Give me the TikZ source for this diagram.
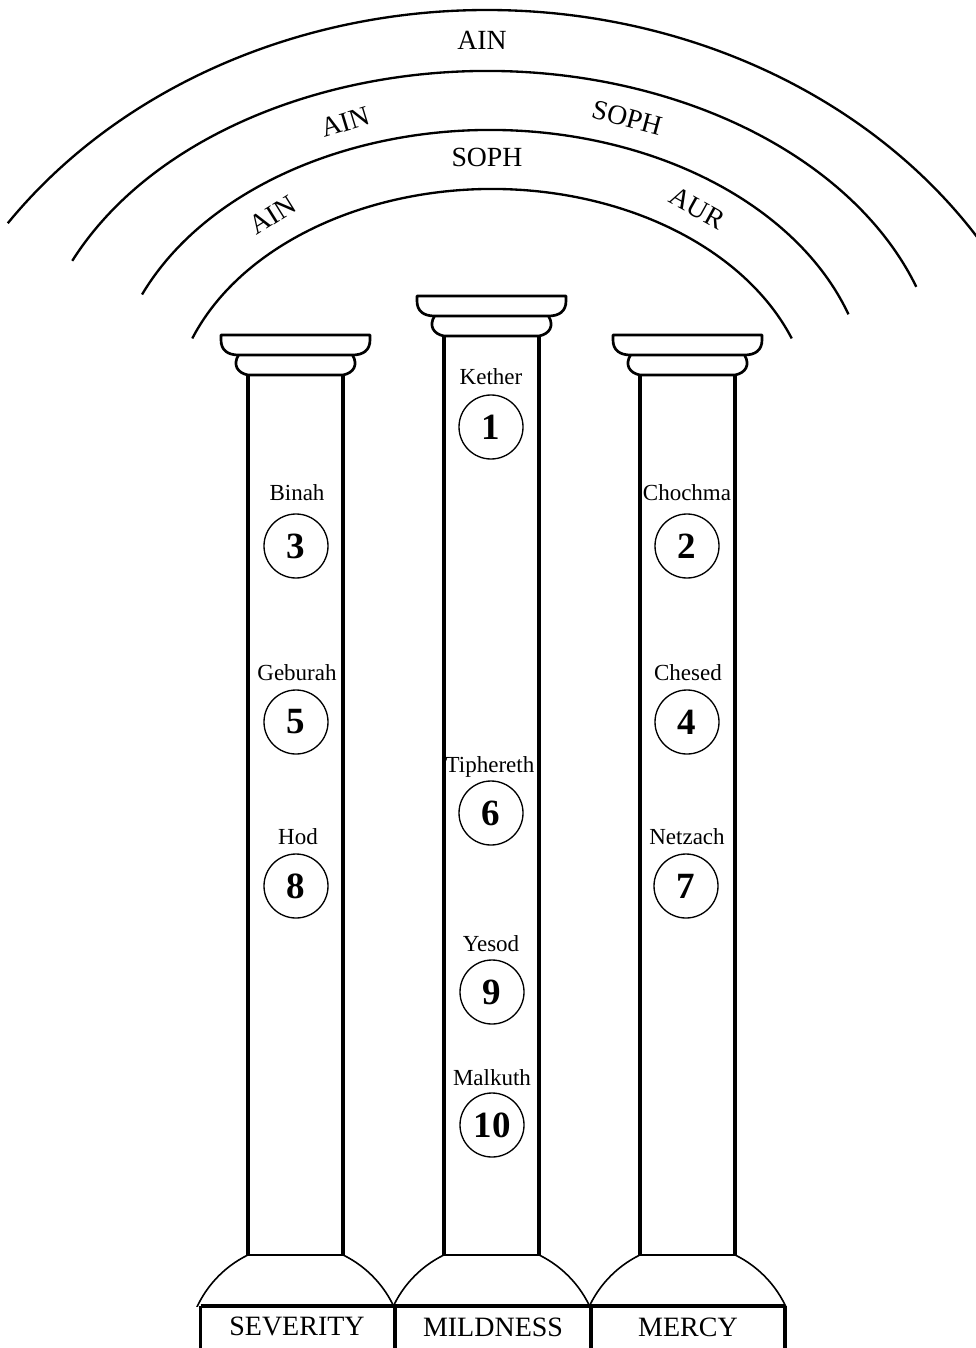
\documentclass[tikz,border=0pt]{standalone}
\usepackage{fontspec}
\setmainfont{Liberation Serif}
\tikzset{
  arcline/.style={line width=1.75pt},
  capline/.style={line width=2pt, line join=round},
  shaftline/.style={line width=2.4pt},
  shaftbot/.style={line width=1.8pt},
  domeline/.style={line width=1.2pt},
  baseln/.style={line width=2.5pt},
  lbl/.style={inner sep=0pt, font=\fontsize{17.25}{20}\selectfont},
  num/.style={circle, draw, line width=1pt, minimum size=48pt, inner sep=0pt, font=\fontsize{27.75}{30}\selectfont\bfseries},
  arctxt/.style={inner sep=0pt, font=\fontsize{20.8}{24}\selectfont},
  basetxt/.style={inner sep=0pt, font=\fontsize{21}{24}\selectfont}
}
\newcommand{\mypillar}[3]{%
\begin{scope}[shift={(#1,#2)}]
\draw[capline] (-74.5,5) -- (-74.5,0) -- (74.5,0) -- (74.5,5) .. controls (74.5,15) and (68,20) .. (57,20) -- (-57,20) .. controls (-68,20) and (-74.5,15) .. (-74.5,5) -- cycle;
\draw[capline] (-57,20) .. controls (-63,30) and (-58,38) .. (-47.5,40) -- (47.5,40) .. controls (58,38) and (63,30) .. (57,20);
\draw[shaftline] (-47.5,40) -- (-47.5,#3);
\draw[shaftline] (47.5,40) -- (47.5,#3);
\draw[shaftbot] (-47.5,#3) -- (47.5,#3);
\end{scope}}
\begin{document}
\begin{tikzpicture}[x=0.75pt,y=-0.75pt]
\useasboundingbox (0,0) rectangle (975,1348);
% arcs
\draw[arcline] (487,510) ++(-145:585 and 500) arc[start angle=-145, end angle=-32.5, x radius=585, y radius=500];
\draw[arcline] (487,391) ++(-156:454 and 320) arc[start angle=-156, end angle=-19, x radius=454, y radius=320];
\draw[arcline] (490,400) ++(-157:378 and 270) arc[start angle=-157, end angle=-18.5, x radius=378, y radius=270];
\draw[arcline] (492,419) ++(-159.5:320 and 230) arc[start angle=-159.5, end angle=-20.5, x radius=320, y radius=230];
% arc texts
\node[arctxt] (ain1) at (482,40) {AIN};
\node[arctxt, rotate=17] (ain2) at (345,122) {AIN};
\node[arctxt, rotate=-15] (soph1) at (627,118) {SOPH};
\node[arctxt] (soph2) at (487,157) {SOPH};
\node[arctxt, rotate=32] (ain3) at (273,215) {AIN};
\node[arctxt, rotate=-29] (aur) at (697,208) {AUR};
% pillars
\mypillar{295.5}{335}{920}
\mypillar{491.5}{296}{959}
\mypillar{687.5}{335}{920}
% domes
\begin{scope}
\clip (0,1255) rectangle (975,1306);
\draw[domeline] (295.5,1352.5) circle (108.5);
\draw[domeline] (491.5,1352.5) circle (108.5);
\draw[domeline] (687.5,1352.5) circle (108.5);
\end{scope}
% base
\draw[baseln] (200.5,1306) -- (785,1306);
\draw[baseln] (200.5,1306) -- (200.5,1350);
\draw[baseln] (395,1306) -- (395,1350);
\draw[baseln] (591,1306) -- (591,1350);
\draw[baseln] (785,1306) -- (785,1350);
\node[basetxt] (sev) at (297,1326) {SEVERITY};
\node[basetxt] (mild) at (493,1327) {MILDNESS};
\node[basetxt] (mer) at (688,1327) {MERCY};
% sephiroth
\node[lbl] (kether) at (491,377) {Kether};
\node[num] (s1) at (491,427) {1};
\node[lbl] (binah) at (297,493) {Binah};
\node[num] (s3) at (296,546) {3};
\node[lbl] (chochma) at (687,493) {Chochma};
\node[num] (s2) at (687,546) {2};
\node[lbl] (geburah) at (297,673) {Geburah};
\node[num] (s5) at (296,722) {5};
\node[lbl] (chesed) at (688,673) {Chesed};
\node[num] (s4) at (687,722) {4};
\node[lbl] (tiphereth) at (490,767) {Tiphereth};
\node[num] (s6) at (491,813) {6};
\node[lbl] (hod) at (298,837) {Hod};
\node[num] (s8) at (296,886) {8};
\node[lbl] (netzach) at (687,837) {Netzach};
\node[num] (s7) at (686,886) {7};
\node[lbl] (yesod) at (491,944) {Yesod};
\node[num] (s9) at (492,992) {9};
\node[lbl] (malkuth) at (492,1078) {Malkuth};
\node[num] (s10) at (492,1125) {10};
\end{tikzpicture}
\end{document}
